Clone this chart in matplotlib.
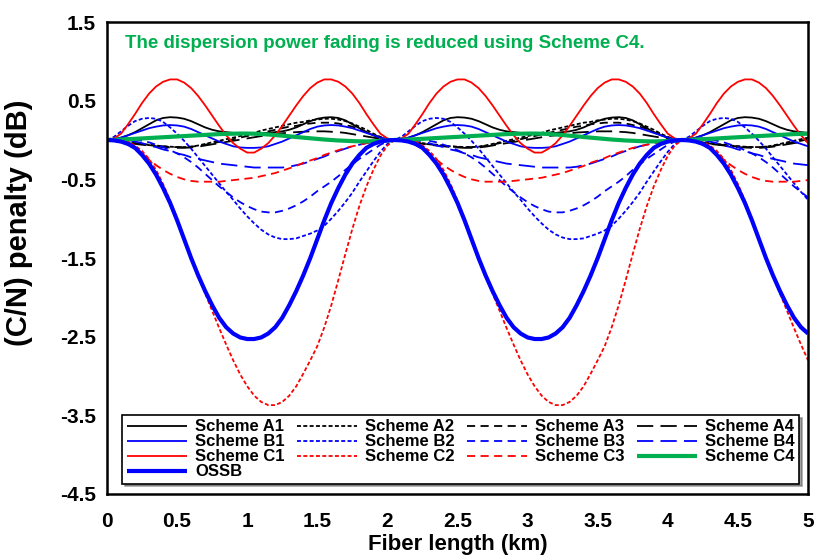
import numpy as np
import matplotlib
matplotlib.use("Agg")
import matplotlib.pyplot as plt

plt.rcParams['font.family'] = ['Liberation Sans', 'DejaVu Sans']
plt.rcParams['axes.unicode_minus'] = False

# Fiber length sample positions (km), 0.05 km spacing
fiber_km = np.round(np.arange(0, 5.0001, 0.05), 2)

# (C/N) penalty in dB at each sample position
scheme_a1 = [0, 0.01, 0.03, 0.06, 0.10, 0.15, 0.20, 0.25, 0.28, 0.29, 0.285, 0.27, 0.24, 0.20, 0.16, 0.13, 0.11, 0.10, 0.09, 0.09, 0.09,
             0.09, 0.09, 0.09, 0.10, 0.11, 0.13, 0.16, 0.20, 0.24, 0.27, 0.285, 0.29, 0.28, 0.25, 0.20, 0.15, 0.10, 0.06, 0.03, 0.01,
             0, 0.01, 0.03, 0.06, 0.10, 0.15, 0.20, 0.25, 0.28, 0.29, 0.285, 0.27, 0.24, 0.20, 0.16, 0.13, 0.11, 0.10, 0.09, 0.09, 0.09,
             0.09, 0.09, 0.09, 0.10, 0.11, 0.13, 0.16, 0.20, 0.24, 0.27, 0.285, 0.29, 0.28, 0.25, 0.20, 0.15, 0.10, 0.06, 0.03, 0.01,
             0, 0.01, 0.03, 0.06, 0.10, 0.15, 0.20, 0.25, 0.28, 0.29, 0.285, 0.27, 0.24, 0.20, 0.16, 0.13, 0.11, 0.10, 0.09]
scheme_a2 = [0, -0.01, -0.02, -0.03, -0.04, -0.05, -0.06, -0.07, -0.08, -0.085, -0.09, -0.09, -0.085, -0.07, -0.05, -0.03, -0.01, 0.01, 0.03, 0.05, 0.07,
             0.09, 0.12, 0.14, 0.16, 0.18, 0.20, 0.22, 0.23, 0.25, 0.26, 0.27, 0.27, 0.26, 0.24, 0.21, 0.17, 0.13, 0.08, 0.04, 0.01,
             0, -0.01, -0.02, -0.03, -0.04, -0.05, -0.06, -0.07, -0.08, -0.085, -0.09, -0.09, -0.085, -0.07, -0.05, -0.03, -0.01, 0.01, 0.03, 0.05, 0.07,
             0.09, 0.12, 0.14, 0.16, 0.18, 0.20, 0.22, 0.23, 0.25, 0.26, 0.27, 0.27, 0.26, 0.24, 0.21, 0.17, 0.13, 0.08, 0.04, 0.01,
             0, -0.01, -0.02, -0.03, -0.04, -0.05, -0.06, -0.07, -0.08, -0.085, -0.09, -0.09, -0.085, -0.07, -0.05, -0.03, -0.01, 0.01, 0.03]
scheme_a3 = [0, -0.01, -0.02, -0.03, -0.045, -0.055, -0.065, -0.075, -0.08, -0.09, -0.09, -0.09, -0.085, -0.075, -0.06, -0.04, -0.025, -0.01, 0.01, 0.03, 0.05,
             0.07, 0.09, 0.11, 0.13, 0.15, 0.17, 0.18, 0.20, 0.21, 0.22, 0.22, 0.22, 0.21, 0.19, 0.17, 0.14, 0.10, 0.07, 0.03, 0.01,
             0, -0.01, -0.02, -0.03, -0.045, -0.055, -0.065, -0.075, -0.08, -0.09, -0.09, -0.09, -0.085, -0.075, -0.06, -0.04, -0.025, -0.01, 0.01, 0.03, 0.05,
             0.07, 0.09, 0.11, 0.13, 0.15, 0.17, 0.18, 0.20, 0.21, 0.22, 0.22, 0.22, 0.21, 0.19, 0.17, 0.14, 0.10, 0.07, 0.03, 0.01,
             0, -0.01, -0.02, -0.03, -0.045, -0.055, -0.065, -0.075, -0.08, -0.09, -0.09, -0.09, -0.085, -0.075, -0.06, -0.04, -0.025, -0.01, 0.01]
scheme_a4 = [0, -0.01, -0.02, -0.035, -0.05, -0.06, -0.07, -0.08, -0.09, -0.095, -0.10, -0.10, -0.095, -0.085, -0.07, -0.055, -0.04, -0.025, -0.01, 0.005, 0.02,
             0.035, 0.05, 0.06, 0.075, 0.085, 0.095, 0.10, 0.105, 0.11, 0.11, 0.11, 0.105, 0.10, 0.09, 0.075, 0.06, 0.045, 0.03, 0.015, 0.005,
             0, -0.01, -0.02, -0.035, -0.05, -0.06, -0.07, -0.08, -0.09, -0.095, -0.10, -0.10, -0.095, -0.085, -0.07, -0.055, -0.04, -0.025, -0.01, 0.005, 0.02,
             0.035, 0.05, 0.06, 0.075, 0.085, 0.095, 0.10, 0.105, 0.11, 0.11, 0.11, 0.105, 0.10, 0.09, 0.075, 0.06, 0.045, 0.03, 0.015, 0.005,
             0, -0.01, -0.02, -0.035, -0.05, -0.06, -0.07, -0.08, -0.09, -0.095, -0.10, -0.10, -0.095, -0.085, -0.07, -0.055, -0.04, -0.025, -0.01]
scheme_b1 = [0, 0.01, 0.03, 0.06, 0.09, 0.12, 0.15, 0.17, 0.185, 0.19, 0.185, 0.17, 0.14, 0.10, 0.06, 0.02, -0.02, -0.05, -0.08, -0.095, -0.10,
             -0.10, -0.095, -0.08, -0.05, -0.02, 0.02, 0.06, 0.10, 0.14, 0.17, 0.185, 0.19, 0.185, 0.17, 0.15, 0.12, 0.09, 0.06, 0.03, 0.01,
             0, 0.01, 0.03, 0.06, 0.09, 0.12, 0.15, 0.17, 0.185, 0.19, 0.185, 0.17, 0.14, 0.10, 0.06, 0.02, -0.02, -0.05, -0.08, -0.095, -0.10,
             -0.10, -0.095, -0.08, -0.05, -0.02, 0.02, 0.06, 0.10, 0.14, 0.17, 0.185, 0.19, 0.185, 0.17, 0.15, 0.12, 0.09, 0.06, 0.03, 0.01,
             0, 0.01, 0.03, 0.06, 0.09, 0.12, 0.15, 0.17, 0.185, 0.19, 0.185, 0.17, 0.14, 0.10, 0.06, 0.02, -0.02, -0.05, -0.08]
scheme_b2 = [0, 0.04, 0.11, 0.18, 0.24, 0.27, 0.28, 0.27, 0.23, 0.16, 0.08, -0.01, -0.11, -0.22, -0.33, -0.44, -0.55, -0.66, -0.76, -0.87, -0.97,
             -1.06, -1.14, -1.20, -1.24, -1.26, -1.26, -1.25, -1.22, -1.19, -1.15, -1.09, -1.00, -0.90, -0.79, -0.67, -0.53, -0.40, -0.27, -0.15, -0.05,
             0, 0.04, 0.11, 0.18, 0.24, 0.27, 0.28, 0.27, 0.23, 0.16, 0.08, -0.01, -0.11, -0.22, -0.33, -0.44, -0.55, -0.66, -0.76, -0.87, -0.97,
             -1.06, -1.14, -1.20, -1.24, -1.26, -1.26, -1.25, -1.22, -1.19, -1.15, -1.09, -1.00, -0.90, -0.79, -0.67, -0.53, -0.40, -0.27, -0.15, -0.05,
             0, 0.04, 0.11, 0.18, 0.24, 0.27, 0.28, 0.27, 0.23, 0.16, 0.08, -0.01, -0.11, -0.22, -0.33, -0.44, -0.55, -0.66, -0.76]
scheme_b3 = [0, 0.01, 0.02, 0.02, 0.01, -0.01, -0.03, -0.06, -0.09, -0.13, -0.17, -0.22, -0.28, -0.35, -0.43, -0.51, -0.59, -0.66, -0.73, -0.79, -0.84,
             -0.88, -0.91, -0.92, -0.92, -0.90, -0.87, -0.83, -0.78, -0.72, -0.65, -0.59, -0.53, -0.46, -0.38, -0.31, -0.24, -0.18, -0.12, -0.06, -0.02,
             0, 0.01, 0.02, 0.02, 0.01, -0.01, -0.03, -0.06, -0.09, -0.13, -0.17, -0.22, -0.28, -0.35, -0.43, -0.51, -0.59, -0.66, -0.73, -0.79, -0.84,
             -0.88, -0.91, -0.92, -0.92, -0.90, -0.87, -0.83, -0.78, -0.72, -0.65, -0.59, -0.53, -0.46, -0.38, -0.31, -0.24, -0.18, -0.12, -0.06, -0.02,
             0, 0.01, 0.02, 0.02, 0.01, -0.01, -0.03, -0.06, -0.09, -0.13, -0.17, -0.22, -0.28, -0.35, -0.43, -0.51, -0.59, -0.66, -0.73]
scheme_b4 = [0, 0.01, 0.01, 0.0, -0.02, -0.04, -0.07, -0.09, -0.12, -0.14, -0.17, -0.19, -0.22, -0.24, -0.26, -0.28, -0.30, -0.31, -0.32, -0.33, -0.34,
             -0.35, -0.35, -0.35, -0.35, -0.35, -0.34, -0.32, -0.30, -0.27, -0.24, -0.21, -0.17, -0.14, -0.11, -0.08, -0.06, -0.04, -0.02, -0.01, 0.0,
             0, 0.01, 0.01, 0.0, -0.02, -0.04, -0.07, -0.09, -0.12, -0.14, -0.17, -0.19, -0.22, -0.24, -0.26, -0.28, -0.30, -0.31, -0.32, -0.33, -0.34,
             -0.35, -0.35, -0.35, -0.35, -0.35, -0.34, -0.32, -0.30, -0.27, -0.24, -0.21, -0.17, -0.14, -0.11, -0.08, -0.06, -0.04, -0.02, -0.01, 0.0,
             0, 0.01, 0.01, 0.0, -0.02, -0.04, -0.07, -0.09, -0.12, -0.14, -0.17, -0.19, -0.22, -0.24, -0.26, -0.28, -0.30, -0.31, -0.32]
scheme_c1 = [0, 0.02, 0.08, 0.20, 0.33, 0.47, 0.59, 0.68, 0.74, 0.77, 0.77, 0.73, 0.66, 0.56, 0.44, 0.31, 0.18, 0.06, -0.04, -0.11, -0.16,
             -0.16, -0.11, -0.04, 0.06, 0.18, 0.31, 0.44, 0.56, 0.66, 0.73, 0.77, 0.77, 0.74, 0.68, 0.59, 0.47, 0.33, 0.20, 0.08, 0.02,
             0, 0.02, 0.08, 0.20, 0.33, 0.47, 0.59, 0.68, 0.74, 0.77, 0.77, 0.73, 0.66, 0.56, 0.44, 0.31, 0.18, 0.06, -0.04, -0.11, -0.16,
             -0.16, -0.11, -0.04, 0.06, 0.18, 0.31, 0.44, 0.56, 0.66, 0.73, 0.77, 0.77, 0.74, 0.68, 0.59, 0.47, 0.33, 0.20, 0.08, 0.02,
             0, 0.02, 0.08, 0.20, 0.33, 0.47, 0.59, 0.68, 0.74, 0.77, 0.77, 0.73, 0.66, 0.56, 0.44, 0.31, 0.18, 0.06, -0.04]
scheme_c2 = [0, 0.01, 0.01, -0.02, -0.07, -0.14, -0.24, -0.38, -0.56, -0.77, -1.00, -1.24, -1.48, -1.72, -1.95, -2.17, -2.39, -2.60, -2.80, -2.98, -3.13,
             -3.25, -3.33, -3.37, -3.37, -3.33, -3.25, -3.13, -2.97, -2.80, -2.62, -2.38, -2.10, -1.78, -1.45, -1.13, -0.84, -0.59, -0.38, -0.20, -0.07,
             0, 0.01, 0.01, -0.02, -0.07, -0.14, -0.24, -0.38, -0.56, -0.77, -1.00, -1.24, -1.48, -1.72, -1.95, -2.17, -2.39, -2.60, -2.80, -2.98, -3.13,
             -3.25, -3.33, -3.37, -3.37, -3.33, -3.25, -3.13, -2.97, -2.80, -2.62, -2.38, -2.10, -1.78, -1.45, -1.13, -0.84, -0.59, -0.38, -0.20, -0.07,
             0, 0.01, 0.01, -0.02, -0.07, -0.14, -0.24, -0.38, -0.56, -0.77, -1.00, -1.24, -1.48, -1.72, -1.95, -2.17, -2.39, -2.60, -2.80]
scheme_c3 = [0, 0.0, -0.02, -0.06, -0.11, -0.17, -0.25, -0.32, -0.38, -0.43, -0.47, -0.50, -0.52, -0.53, -0.53, -0.53, -0.53, -0.52, -0.51, -0.50, -0.49,
             -0.48, -0.46, -0.44, -0.42, -0.39, -0.36, -0.33, -0.29, -0.26, -0.23, -0.19, -0.16, -0.13, -0.10, -0.08, -0.06, -0.04, -0.03, -0.01, 0.0,
             0, 0.0, -0.02, -0.06, -0.11, -0.17, -0.25, -0.32, -0.38, -0.43, -0.47, -0.50, -0.52, -0.53, -0.53, -0.53, -0.53, -0.52, -0.51, -0.50, -0.49,
             -0.48, -0.46, -0.44, -0.42, -0.39, -0.36, -0.33, -0.29, -0.26, -0.23, -0.19, -0.16, -0.13, -0.10, -0.08, -0.06, -0.04, -0.03, -0.01, 0.0,
             0, 0.0, -0.02, -0.06, -0.11, -0.17, -0.25, -0.32, -0.38, -0.43, -0.47, -0.50, -0.52, -0.53, -0.53, -0.53, -0.53, -0.52, -0.51]
scheme_c4 = [0, 0.003, 0.006, 0.01, 0.015, 0.02, 0.025, 0.03, 0.035, 0.04, 0.045, 0.05, 0.055, 0.06, 0.065, 0.07, 0.075, 0.078, 0.08, 0.082, 0.082,
             0.08, 0.076, 0.07, 0.063, 0.055, 0.047, 0.038, 0.03, 0.022, 0.014, 0.006, 0.0, -0.006, -0.01, -0.014, -0.017, -0.018, -0.016, -0.012, -0.005,
             0, 0.003, 0.006, 0.01, 0.015, 0.02, 0.025, 0.03, 0.035, 0.04, 0.045, 0.05, 0.055, 0.06, 0.065, 0.07, 0.075, 0.078, 0.08, 0.082, 0.082,
             0.08, 0.076, 0.07, 0.063, 0.055, 0.047, 0.038, 0.03, 0.022, 0.014, 0.006, 0.0, -0.006, -0.01, -0.014, -0.017, -0.018, -0.016, -0.012, -0.005,
             0, 0.003, 0.006, 0.01, 0.015, 0.02, 0.025, 0.03, 0.035, 0.04, 0.045, 0.05, 0.055, 0.06, 0.065, 0.07, 0.075, 0.078, 0.08]
ossb = [0, -0.005, -0.02, -0.05, -0.10, -0.19, -0.30, -0.44, -0.61, -0.80, -1.02, -1.26, -1.50, -1.72, -1.92, -2.10, -2.26, -2.38, -2.46, -2.51, -2.53,
        -2.53, -2.51, -2.46, -2.38, -2.26, -2.10, -1.92, -1.72, -1.50, -1.26, -1.02, -0.80, -0.61, -0.44, -0.30, -0.19, -0.10, -0.05, -0.02, -0.005,
        0, -0.005, -0.02, -0.05, -0.10, -0.19, -0.30, -0.44, -0.61, -0.80, -1.02, -1.26, -1.50, -1.72, -1.92, -2.10, -2.26, -2.38, -2.46, -2.51, -2.53,
        -2.53, -2.51, -2.46, -2.38, -2.26, -2.10, -1.92, -1.72, -1.50, -1.26, -1.02, -0.80, -0.61, -0.44, -0.30, -0.19, -0.10, -0.05, -0.02, -0.005,
        0, -0.005, -0.02, -0.05, -0.10, -0.19, -0.30, -0.44, -0.61, -0.80, -1.02, -1.26, -1.50, -1.72, -1.92, -2.10, -2.26, -2.38, -2.46]

x_ticks = [0, 0.5, 1, 1.5, 2, 2.5, 3, 3.5, 4, 4.5, 5]
x_tick_labels = ["0", "0.5", "1", "1.5", "2", "2.5", "3", "3.5", "4", "4.5", "5"]
y_ticks = [-4.5, -3.5, -2.5, -1.5, -0.5, 0.5, 1.5]
y_tick_labels = ["-4.5", "-3.5", "-2.5", "-1.5", "-0.5", "0.5", "1.5"]

BLUE = "#0000FF"
RED = "#FF0000"
GREEN = "#00B050"
FINE = (2.2, 1.3)
MED = (4.5, 3.0)
LONG = (9.0, 4.0)

series = [
    ("Scheme A1", scheme_a1, "black", None, 1.3),
    ("Scheme A2", scheme_a2, "black", FINE, 1.3),
    ("Scheme A3", scheme_a3, "black", MED, 1.3),
    ("Scheme A4", scheme_a4, "black", LONG, 1.3),
    ("Scheme B1", scheme_b1, BLUE, None, 1.3),
    ("Scheme B2", scheme_b2, BLUE, FINE, 1.3),
    ("Scheme B3", scheme_b3, BLUE, MED, 1.3),
    ("Scheme B4", scheme_b4, BLUE, LONG, 1.3),
    ("Scheme C1", scheme_c1, RED, None, 1.3),
    ("Scheme C2", scheme_c2, RED, FINE, 1.3),
    ("Scheme C3", scheme_c3, RED, MED, 1.3),
    ("Scheme C4", scheme_c4, GREEN, None, 3.0),
    ("OSSB", ossb, BLUE, None, 3.0),
]

fig = plt.figure(figsize=(8.14, 5.59), dpi=100)
ax = fig.add_axes([107/814, 65/559, 701/814, 472/559])

handles = {}
for name, vals, color, dash, lw in series:
    if dash is None:
        (ln,) = ax.plot(fiber_km, vals, color=color, lw=lw, solid_capstyle='butt')
    else:
        (ln,) = ax.plot(fiber_km, vals, color=color, lw=lw, dashes=dash)
    ln.set_label(name)
    handles[name] = ln

ax.set_xlim(0, 5)
ax.set_ylim(-4.5, 1.5)
ax.set_xticks(x_ticks)
ax.set_xticklabels(x_tick_labels, fontsize=15, fontweight='bold')
ax.set_yticks(y_ticks)
ax.set_yticklabels(y_tick_labels, fontsize=15, fontweight='bold')
ax.tick_params(axis='x', length=0, pad=13)
ax.tick_params(axis='y', length=0, pad=8)
for sp in ax.spines.values():
    sp.set_linewidth(1.8)
    sp.set_color('black')

ax.set_xlabel("Fiber length (km)", fontsize=16, fontweight='bold', labelpad=2)
ax.set_ylabel("(C/N) penalty (dB)", fontsize=21, fontweight='bold')
ax.yaxis.set_label_coords(-0.105, 0.575)

ax.text(0.025, 0.955, "The dispersion power fading is reduced using Scheme C4.",
        transform=ax.transAxes, color=GREEN, fontsize=13.5, fontweight='bold',
        ha='left', va='center')

order = ["Scheme A1", "Scheme B1", "Scheme C1", "OSSB",
         "Scheme A2", "Scheme B2", "Scheme C2",
         "Scheme A3", "Scheme B3", "Scheme C3",
         "Scheme A4", "Scheme B4", "Scheme C4"]
leg = ax.legend([handles[n] for n in order], order, ncol=4, loc='lower left',
                bbox_to_anchor=(0.022, 0.022, 0.965, 0.16), mode='expand',
                prop={'weight': 'bold', 'size': 12}, frameon=True, fancybox=False,
                shadow=True, edgecolor='black', framealpha=1, borderpad=0.25,
                labelspacing=0.0, handlelength=3.6, handletextpad=0.5,
                columnspacing=0.8, borderaxespad=0)
leg.get_frame().set_linewidth(1.2)

fig.savefig("out.png", dpi=100)
